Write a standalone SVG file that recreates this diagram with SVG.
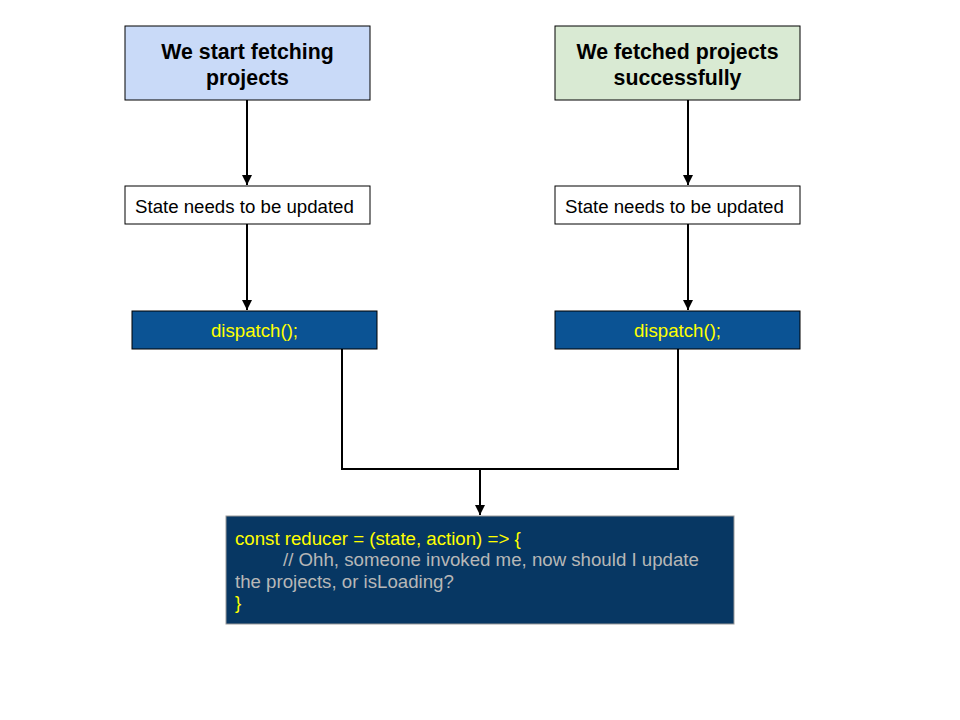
<svg xmlns="http://www.w3.org/2000/svg" width="960" height="720" viewBox="0 0 960 720">
<defs>
<marker id="ah" viewBox="0 0 10 10" refX="10" refY="5" markerWidth="5" markerHeight="5" orient="auto" markerUnits="strokeWidth"><path d="M0,0 L10,5 L0,10 z" fill="#000"/></marker>
<style>
.t{font-family:"Liberation Sans",Arial,sans-serif}
.h{font-size:21.3px;font-weight:bold;fill:#000;text-anchor:middle}
.s{font-size:18.67px;fill:#000}
.d{font-size:18.67px;fill:#ffff00;text-anchor:middle}
.c{font-size:18.67px}
.ln{fill:none;stroke:#000;stroke-width:2}
</style>
</defs>
<rect width="960" height="720" fill="#fff"/>
<g id="start">
<rect x="125" y="26" width="245" height="74" fill="#c9daf8" stroke="#000" stroke-width="1"/>
<text class="t h" x="247.5" y="58.5">We start fetching</text>
<text class="t h" x="247.5" y="84.5">projects</text>
</g>
<g id="fetched">
<rect x="555" y="26" width="245" height="74" fill="#d9ead3" stroke="#000" stroke-width="1"/>
<text class="t h" x="677.5" y="58.5">We fetched projects</text>
<text class="t h" x="677.5" y="84.5">successfully</text>
</g>
<g id="state1">
<rect x="125" y="186" width="245" height="38" fill="#fff" stroke="#000" stroke-width="1"/>
<text class="t s" x="135" y="212.5">State needs to be updated</text>
</g>
<g id="state2">
<rect x="555" y="186" width="245" height="38" fill="#fff" stroke="#000" stroke-width="1"/>
<text class="t s" x="565" y="212.5">State needs to be updated</text>
</g>
<g id="dispatch1">
<rect x="132" y="311" width="245" height="38" fill="#0b5394" stroke="#000" stroke-width="1"/>
<text class="t d" x="254.5" y="336.5">dispatch();</text>
</g>
<g id="dispatch2">
<rect x="555" y="311" width="245" height="38" fill="#0b5394" stroke="#000" stroke-width="1"/>
<text class="t d" x="677.5" y="336.5">dispatch();</text>
</g>
<g id="reducer">
<rect x="226" y="516" width="508" height="108" fill="#073763" stroke="#999" stroke-width="1"/>
<text class="t c" x="235" y="544.5" fill="#ffff00">const reducer = (state, action) =&gt; {</text>
<text class="t c" x="283" y="566" fill="#b7b7b7">// Ohh, someone invoked me, now should I update</text>
<text class="t c" x="235" y="587.5" fill="#b7b7b7">the projects, or isLoading?</text>
<text class="t c" x="235" y="609" fill="#ffff00">}</text>
</g>
<g id="connectors">
<line class="ln" x1="247" y1="100" x2="247" y2="185" marker-end="url(#ah)"/>
<line class="ln" x1="247" y1="224" x2="247" y2="310" marker-end="url(#ah)"/>
<line class="ln" x1="688" y1="100" x2="688" y2="185" marker-end="url(#ah)"/>
<line class="ln" x1="688" y1="224" x2="688" y2="310" marker-end="url(#ah)"/>
<polyline class="ln" points="342,349 342,469 480,469"/>
<polyline class="ln" points="678,349 678,469 480,469"/>
<line class="ln" x1="480" y1="468" x2="480" y2="515" marker-end="url(#ah)"/>
</g>
</svg>
